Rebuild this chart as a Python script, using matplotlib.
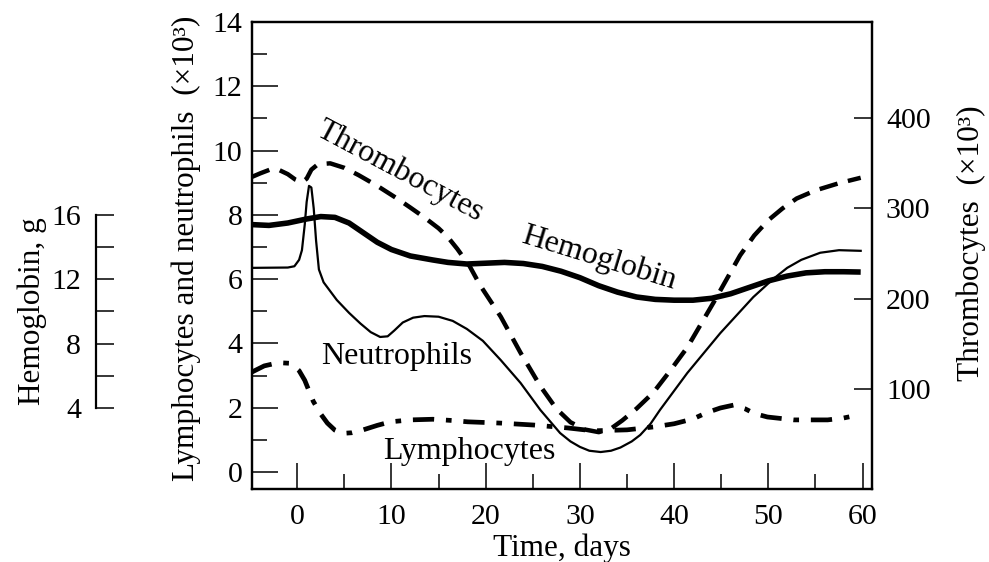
import matplotlib
matplotlib.use("Agg")
import matplotlib.pyplot as plt
from matplotlib.ticker import MultipleLocator, FixedLocator

plt.rcParams['font.family'] = ['Liberation Serif', 'DejaVu Serif']

# ---- data ----
thr_days = [-4.8, -3.9, -2.9, -2.0, -1.0, -0.2, 0.5, 1.0, 1.5, 2.2, 3.5, 5.0, 6.5, 8.5,
            10.6, 12.0, 13.5, 15.0, 16.0, 17.0, 18.3, 19.4, 21.6, 23.7, 25.8, 27.5, 29.0,
            30.5, 32.0, 33.3, 34.5, 36.0, 37.8, 39.5, 41.4, 44.2, 47.0, 48.5, 50.0, 51.5,
            53.0, 55.0, 57.5, 59.8]
thr_vals = [335, 339, 343, 343, 338, 332, 329, 333, 343, 349, 350, 345, 337, 325,
            311, 301, 290, 278, 268, 255, 236, 215, 180, 140, 103, 78, 63,
            55, 52, 56, 65, 78, 96, 119, 146, 196, 248, 270, 287, 300,
            311, 320, 328, 334]

hb_days = [-4.8, -3.0, -1.0, 1.0, 2.5, 4.0, 5.5, 7.0, 8.5, 10.0, 12.0, 14.4, 16.0, 18.0,
           20.0, 22.0, 24.0, 26.0, 28.0, 30.0, 32.0, 34.0, 36.0, 38.0, 40.0, 42.0, 44.0,
           46.0, 48.0, 50.0, 52.0, 54.0, 56.0, 58.0, 59.8]
hb_vals = [15.4, 15.35, 15.5, 15.75, 15.9, 15.85, 15.5, 14.9, 14.3, 13.85, 13.45, 13.2,
           13.05, 12.95, 13.0, 13.05, 12.98, 12.8, 12.5, 12.1, 11.6, 11.2, 10.9, 10.75,
           10.7, 10.7, 10.82, 11.1, 11.5, 11.9, 12.2, 12.4, 12.47, 12.47, 12.45]

neu_days = [-4.8, -1.0, -0.3, 0.2, 0.5, 0.8, 1.0, 1.25, 1.5, 1.75, 2.0, 2.3, 2.8, 4.2, 5.5,
            6.7, 7.8, 8.8, 9.6, 10.3, 11.2, 12.3, 13.5, 15.0, 16.5, 18.0, 19.7, 21.6, 23.7,
            25.8, 27.9, 29.0, 30.0, 31.0, 32.2, 33.3, 34.3, 35.5, 36.4, 37.5, 38.5, 41.4,
            44.9, 48.4, 50.5, 52.0, 53.5, 55.5, 57.5, 59.8]
neu_vals = [6.35, 6.36, 6.4, 6.6, 6.9, 7.7, 8.4, 8.9, 8.85, 8.2, 7.2, 6.3, 5.9, 5.35, 4.95,
            4.62, 4.35, 4.2, 4.22, 4.4, 4.65, 4.8, 4.85, 4.83, 4.7, 4.45, 4.08, 3.48, 2.77,
            1.93, 1.21, 0.95, 0.78, 0.66, 0.62, 0.66, 0.76, 0.95, 1.15, 1.5, 1.93, 3.08,
            4.32, 5.44, 6.0, 6.35, 6.6, 6.82, 6.9, 6.88]

lym_days = [-4.8, -3.5, -2.0, -0.7, 0.2, 0.8, 1.7, 2.5, 3.2, 4.0, 4.8, 5.8, 7.0, 8.5, 9.9,
            12.0, 14.4, 16.5, 18.1, 21.6, 25.1, 28.7, 31.4, 35.0, 37.8, 40.0, 42.0, 43.5,
            44.9, 46.3, 47.5, 48.5, 49.9, 52.7, 56.3, 58.0, 59.5]
lym_vals = [3.11, 3.3, 3.4, 3.38, 3.15, 2.85, 2.2, 1.8, 1.52, 1.3, 1.2, 1.22, 1.31, 1.45,
            1.56, 1.62, 1.64, 1.6, 1.56, 1.52, 1.46, 1.37, 1.28, 1.31, 1.40, 1.5, 1.65,
            1.85, 1.99, 2.08, 1.97, 1.82, 1.71, 1.62, 1.62, 1.68, 1.77]

x_major = [0, 10, 20, 30, 40, 50, 60]
y_left_major = [0, 2, 4, 6, 8, 10, 12, 14]
y_right_ticks = [100, 200, 300, 400]
hb_ticks = [4, 8, 12, 16]

FS_TICK = 21.5
FS_LAB = 22.5
FS_ANN = 23

fig = plt.figure(figsize=(9.89, 5.62), dpi=100)
ax = fig.add_axes([0.2548, 0.1299, 0.6269, 0.8310])

ax.plot(neu_days, neu_vals, color='black', lw=1.6, solid_joinstyle='round')
ax.plot(lym_days, lym_vals, color='black', lw=3.4,
        dashes=(4.5, 2.5, 1.2, 2.5), dash_capstyle='butt')

ax.set_xlim(-4.8, 61)
ax.set_ylim(-0.53, 14.0)
ax.xaxis.set_major_locator(FixedLocator(x_major))
ax.xaxis.set_minor_locator(MultipleLocator(5))
ax.yaxis.set_major_locator(FixedLocator(y_left_major))
ax.yaxis.set_minor_locator(MultipleLocator(1))
ax.tick_params(axis='both', which='major', direction='in', length=19, width=1.1,
               labelsize=FS_TICK, top=False, right=False)
ax.tick_params(axis='x', which='major', pad=11)
ax.tick_params(axis='y', which='major', pad=7)
ax.tick_params(axis='both', which='minor', direction='in', length=11, width=1.1,
               top=False, right=False)
for s in ax.spines.values():
    s.set_linewidth(1.6)
ax.set_xlabel('Time, days', fontsize=FS_LAB, labelpad=2)
ax.set_ylabel('Lymphocytes and neutrophils  (×10³)', fontsize=FS_LAB)
ax.yaxis.set_label_coords(-0.083, 0.515)

# thrombocytes (right axis)
axr = ax.twinx()
axr.plot(thr_days, thr_vals, color='black', lw=3.2, dashes=(4.2, 2.4), dash_capstyle='butt')
axr.set_ylim(-11, 506.7)
axr.yaxis.set_major_locator(FixedLocator(y_right_ticks))
axr.tick_params(axis='y', direction='in', length=13, width=1.1, labelsize=FS_TICK, pad=10)
for s in axr.spines.values():
    s.set_linewidth(1.6)
axr.set_ylabel('Thrombocytes  (×10³)', fontsize=FS_LAB, rotation=90)
axr.yaxis.set_label_coords(1.137, 0.527)

# hemoglobin (separate left axis)
axh = ax.twinx()
axh.plot(hb_days, hb_vals, color='black', lw=4.0, solid_capstyle='butt',
         solid_joinstyle='round')
axh.set_ylim(-1.04, 28.0)
for k in ['top', 'bottom', 'right']:
    axh.spines[k].set_visible(False)
axh.spines['left'].set_visible(True)
axh.spines['left'].set_position(('outward', 112))
axh.spines['left'].set_bounds(4, 16)
axh.spines['left'].set_linewidth(1.6)
axh.yaxis.set_label_position('left')
axh.yaxis.set_ticks_position('left')
axh.yaxis.set_major_locator(FixedLocator(hb_ticks))
axh.yaxis.set_minor_locator(FixedLocator([6, 10, 14]))
axh.tick_params(axis='y', which='both', direction='in', length=13, width=1.1,
                labelsize=FS_TICK, pad=11)
axh.set_ylabel('Hemoglobin, g', fontsize=FS_LAB)
axh.yaxis.set_label_coords(-0.330, 0.38)

# curve annotations
ax.text(10.9, 9.35, 'Thrombocytes', fontsize=FS_ANN, rotation=-28, ha='center', va='center')
ax.text(32.0, 6.65, 'Hemoglobin', fontsize=FS_ANN, rotation=-17, ha='center', va='center')
ax.text(10.5, 3.6, 'Neutrophils', fontsize=FS_ANN, ha='center', va='center')
ax.text(18.3, 0.65, 'Lymphocytes', fontsize=FS_ANN, ha='center', va='center')

fig.savefig('out.png', dpi=100)
